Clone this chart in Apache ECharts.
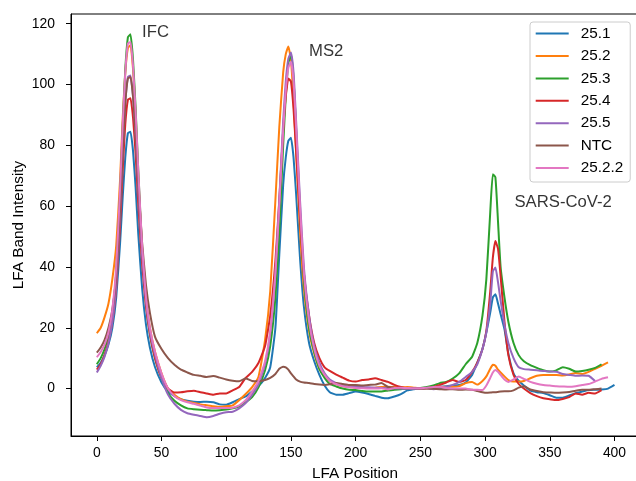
<!DOCTYPE html>
<html><head><meta charset="utf-8">
<script src="https://cdn.jsdelivr.net/npm/echarts@6/dist/echarts.min.js"></script>
<style>html,body{margin:0;padding:0;background:#fff}#c{width:636px;height:481px}</style>
</head><body><div id="c"></div>
<script>
const positions = [0,3,6,9,12,15,18,20,22,24,26,28,30,32,35,38,41,45,50,55,60,65,70,75,80,85,90,95,100,105,110,115,120,125,130,134,138,141,144,146,148,150,152,154,157,160,164,168,172,176,180,185,190,195,200,205,210,215,220,225,230,235,240,245,250,255,260,265,270,275,280,285,290,294,298,301,304,306,308,310,312,315,318,322,326,330,335,340,345,350,355,360,365,370,375,380,385,390,395,400];

const s25_1 = [7,8.5,11,14.5,20,30,48,63,76,84,84.5,78,66,51,33,21,13.5,7,2,-1,-2.5,-3.5,
  -4,-4.3,-4.4,-4.3,-4.5,-5.2,-5.3,-4.5,-3.5,-2.6,-1,0.8,
  3.5,7,20,44,67,76,81.5,82.5,76,64,43,27,15,9,4.5,1,-1.2,
  -2,-2,-1.5,-1,-1.3,-1.8,-2.4,-3,-3.2,-2.6,-1.8,-0.6,-0.2,0.1,0.2,0.4,0.6,0.8,1,1.2,2,
  4.5,8.5,13,18.5,25,30,31,28,24.5,19.5,11.5,5,2.5,1,-0.7,-1.2,-1.5,-2.2,-3,-3,-2.3,-1.5,-1,-0.5,-0.4,-0.3,0,1.2];
const s25_2 = [18.2,20,23.5,28,36,47,69,89,104,112,113,105,90,70,46,30,20,12,5,0,-2,-3.5,
  -4.3,-4.7,-5.2,-5.5,-5.8,-6,-5.8,-5.5,-3.8,-1.8,0.5,4,
  16,32,62,86,104,110,112.5,108,95,78,52,33,19,11.5,6.5,4,2.5,
  1.5,0.8,0.5,0.3,0.2,0.2,0.3,0.5,0.6,0.5,0.4,0.5,0.3,0.1,0.1,0.2,0.4,0.6,0.6,0.8,1.8,
  2.2,1.3,2.5,4,6.5,7.8,7.5,6.2,5.3,4,2.8,2.3,2.3,2.5,3.4,4.2,4.5,4.5,4.5,4.3,4.6,5.1,4.8,5.5,6.5,7.5,8.6];
const s25_3 = [8,10,13,17.5,25,38,64,86,105,115.5,116.5,108,92,72,46,28,18,10,3.5,-1.5,-4,-5.5,
  -6.5,-6.8,-7,-7.1,-7.2,-7.1,-6.9,-6.5,-5.9,-4.5,-2.8,0.5,
  6,14,30,52,80,96,107,110,102,85,58,36,20,12,6.5,3.5,1.5,
  0.7,0,-0.4,-0.5,-0.8,-1,-1,-1,-0.6,-0.4,-0.2,0,0.1,0.2,0.5,1,1.8,2.2,3.3,5,8,
  10.5,15,24,36,58,70.5,69.5,55,40,30,22,15,11,9,7.7,6.8,6,5.6,6,7,6.5,5.6,5.8,6.2,6.8,8];
const s25_4 = [6.2,8,11,15.5,22,33,54,72,87,95,95.5,89,77,61,41,27,18,10,3.5,0,-1.3,-1.2,
  -0.9,-0.7,-1.2,-1.6,-2,-1.6,-1.6,-0.6,0.5,3.5,5.5,8.5,
  14,24,42,62,85,96,102,101,92,78,56,38,24,15,10,7,5.8,
  4.6,3.6,2.6,2.3,2.8,3,3.4,2.8,2.2,1.2,0.5,0.1,0.1,0,0.1,0.5,1.2,2,2.8,2.2,2.8,
  5.5,8.5,13,19,32,43,48.5,46,37,22,11,4.5,1.5,0,-1.5,-2.5,-3.2,-3.5,-3.8,-3.4,-2.8,-1.6,-2,-1.4,-1.6,-0.5];
const s25_5 = [5.3,7.5,10.5,15,22,34,58,78,94,102.5,103,96,83,66,44,29,19,11,3.5,-2,-5,-7,
  -8.1,-8.6,-9,-9.4,-9,-8.3,-7.8,-7.6,-6.5,-4.8,-2,1.5,
  8,18,38,62,88,101,108.5,110.5,104,88,62,40,24,14,8.5,5,3,
  1.8,1,0.6,0.5,0.5,0.4,0.3,0.2,0.1,0.1,0,-0.1,0,0,0.1,-0.2,0.1,0.5,1.2,2.2,3.8,
  5.5,8,13,18.5,28,38.5,39.8,35,29,21,15,10,7,6.4,6.2,6,5.8,5.6,5.5,4.8,4.5,4.2,4.3,4.2,2.5];
const sNTC = [11.8,13.5,16,20,26,37,60,78,94,102,102.5,96,84,68,48,34,25,17,13,10,7.8,6.2,
  5.3,4.5,4.2,3.8,4.1,3.6,3,2.6,2.4,3.3,2.5,2.4,
  2.8,3.5,4.8,6.5,7.2,7,6.2,5,4,3,2.3,2,1.8,1.5,1.3,1.2,1.4,
  1.8,1.5,1.2,1.2,1,1.2,1.3,1.8,0.5,0.3,0.2,0.1,0.2,0,0,-0.1,-0.2,-0.3,-0.2,-0.4,-0.3,
  -0.4,-0.8,-1.2,-1.4,-1.3,-1.2,-1.2,-1.1,-1,-0.9,-0.9,-0.6,0.3,0.8,-0.3,-0.8,-1.2,-1.3,-1.4,-1.3,-1.1,-0.7,-0.4,-0.4,-0.2,0];
const s25_2_2 = [10.3,12,14.5,18.5,26,40,66,87,104,113.5,114,106,91,72,47,30,20,12,5,0,-2.5,-3.8,
  -4.5,-5,-5.6,-6.2,-6.4,-6.4,-6.4,-6.3,-5.5,-3.8,-1,2.5,
  9,19,38,60,85,98,105.5,107.5,101,86,60,38,22,13,7.5,4.5,2.5,
  1.5,0.8,0.4,0.2,0.1,0,0,0.1,-0.3,0.2,0.3,0.2,0.1,0.1,0.3,0.5,0.6,0.2,0,0,0,
  -0.4,-0.4,-0.5,1,3.5,5.3,6.1,5.5,4.5,3,2.2,3,4,3.2,2.2,1.6,1.2,1,0.8,0.7,0.6,0.8,1.2,1.5,2.3,3.2,3.7];

const seriesNames = ['25.1','25.2','25.3','25.4','25.5','NTC','25.2.2'];
const seriesValues = [s25_1, s25_2, s25_3, s25_4, s25_5, sNTC, s25_2_2];
const colors = ['#1f77b4','#ff7f0e','#2ca02c','#d62728','#9467bd','#8c564b','#e377c2'];

const xTicks = [0,50,100,150,200,250,300,350,400];
const yTicks = [0,20,40,60,80,100,120];

const annotationLabels = ['IFC','MS2','SARS-CoV-2'];
const annotationX = [35,164,322.7];
const annotationY = [117.3,110.9,61.2];

const FONT = 'Liberation Sans, Arial, sans-serif';
const chart = echarts.init(document.getElementById('c'), null, {renderer:'canvas'});

const lineSeries = seriesValues.map((vals,i)=>({
  type:'line', name:seriesNames[i],
  data: vals.map((v,j)=>[positions[j], v]),
  symbol:'none', smooth:0.15,
  lineStyle:{width:2,color:colors[i]}, itemStyle:{color:colors[i]},
  emphasis:{disabled:true}
}));

const annSeries = {
  type:'scatter', name:'annotations', symbolSize:0, silent:true,
  data: annotationX.map((x,i)=>({value:[x, annotationY[i]], label:{formatter:annotationLabels[i]}})),
  label:{show:true, position:'right', distance:0, color:'#000', fontSize:16.7, fontFamily:FONT}
};

chart.setOption({
  animation:false,
  backgroundColor:'#fff',
  grid:{left:71, top:14, width:568, height:422, outerBoundsMode:'none', containLabel:false,
        show:true, borderColor:'#000', borderWidth:1, backgroundColor:'transparent'},
  legend:{
    orient:'vertical', left:530, top:22, data:seriesNames,
    icon:'rect', itemWidth:33, itemHeight:2, itemGap:7.4,
    padding:[4.1,7,6.5,5.7],
    borderColor:'#cccccc', borderWidth:1, borderRadius:3, backgroundColor:'#fff',
    textStyle:{fontSize:15.3, color:'#000', fontFamily:FONT, padding:[0,0,0,7], lineHeight:15}
  },
  xAxis:{
    type:'value', min:-19.95, max:418.95,
    axisLine:{show:true, onZero:false, lineStyle:{color:'#000', width:1}},
    axisTick:{show:true, length:5, customValues:xTicks, lineStyle:{color:'#000'}},
    axisLabel:{customValues:xTicks, color:'#000', fontSize:13.9, fontFamily:FONT, margin:10},
    splitLine:{show:false},
    name:'LFA Position', nameLocation:'middle', nameGap:30, nameMoveOverlap:false,
    nameTextStyle:{color:'#000', fontSize:15.3, fontFamily:FONT}
  },
  yAxis:{
    type:'value', min:-15.6, max:123.2,
    axisLine:{show:true, onZero:false, lineStyle:{color:'#000', width:1}},
    axisTick:{show:true, length:5, customValues:yTicks, lineStyle:{color:'#000'}},
    axisLabel:{customValues:yTicks, color:'#000', fontSize:13.9, fontFamily:FONT, margin:16},
    splitLine:{show:false},
    name:'LFA Band Intensity', nameLocation:'middle', nameGap:45, nameMoveOverlap:false,
    nameTextStyle:{color:'#000', fontSize:15.3, fontFamily:FONT}
  },
  series: lineSeries.concat([annSeries])
});
</script>
</body></html>
